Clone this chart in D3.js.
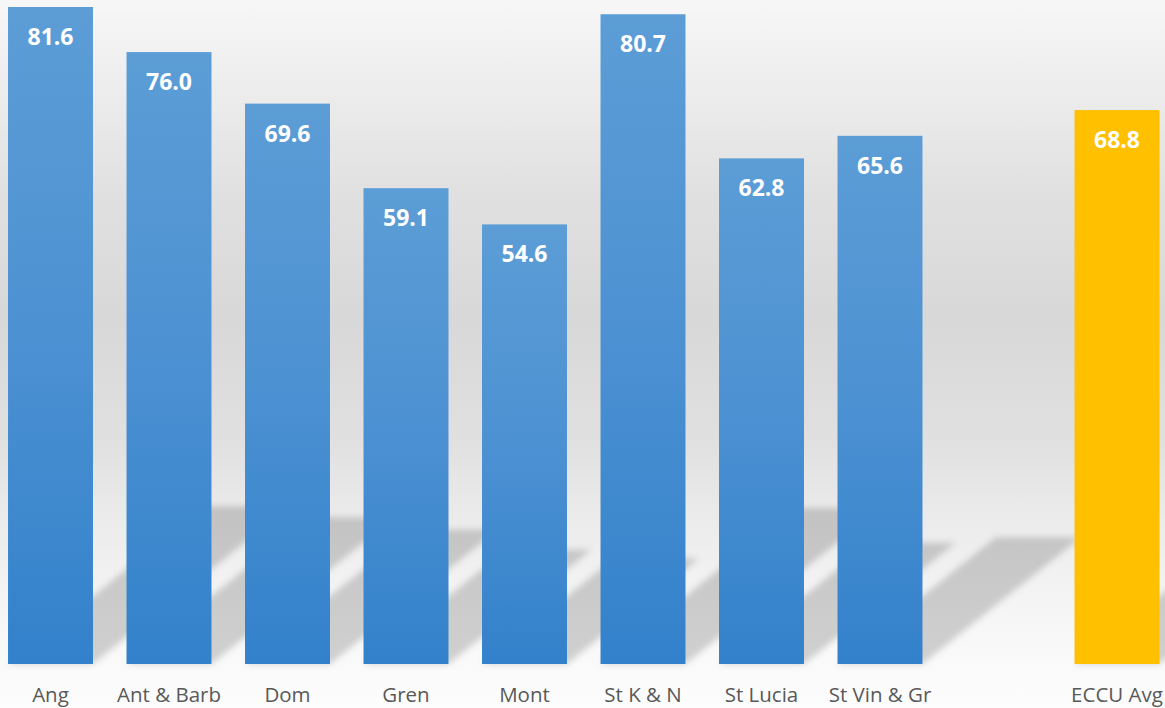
<!DOCTYPE html>
<html>
<head>
<meta charset="utf-8">
<script src="https://cdn.jsdelivr.net/npm/d3@7"></script>
<style>
  html, body { margin: 0; padding: 0; background: #fff; }
  svg { display: block; }
</style>
</head>
<body>
<svg id="chart" width="1165" height="708"></svg>
<script>
const categories = ["Ang", "Ant & Barb", "Dom", "Gren", "Mont", "St K & N", "St Lucia", "St Vin & Gr", "", "ECCU Avg"];
const values = [81.6, 76.0, 69.6, 59.1, 54.6, 80.7, 62.8, 65.6, null, 68.8];
const highlight = ["ECCU Avg"];

const W = 1165, H = 708;
const svg = d3.select("#chart");
const defs = svg.append("defs");

// background gradient
const bg = defs.append("linearGradient").attr("id", "bg").attr("x1", 0).attr("y1", 0).attr("x2", 0).attr("y2", 1);
[[0, "#f7f7f7"], [0.28, "#e0e0e0"], [0.45, "#d8d8d8"], [0.62, "#e0e0e0"], [0.72, "#eaeaea"], [0.82, "#f2f2f2"], [0.92, "#f9f9f9"], [1, "#fdfdfd"]]
  .forEach(([o, c]) => bg.append("stop").attr("offset", o).attr("stop-color", c));

const bar = defs.append("linearGradient").attr("id", "barGrad").attr("x1", 0).attr("y1", 0).attr("x2", 0).attr("y2", 1);
[[0, "#5c9dd6"], [0.5, "#4c91d2"], [1, "#3381cb"]]
  .forEach(([o, c]) => bar.append("stop").attr("offset", o).attr("stop-color", c));

const blur = defs.append("filter").attr("id", "blur").attr("x", "-20%").attr("y", "-20%").attr("width", "140%").attr("height", "140%");
blur.append("feGaussianBlur").attr("stdDeviation", 3.2);

svg.append("rect").attr("width", W).attr("height", H).attr("fill", "url(#bg)");

const x = d3.scaleBand()
  .domain(d3.range(categories.length))
  .range([-8.75, 1176.25])
  .paddingInner(0.283)
  .paddingOuter(0.1415);

const y = d3.scaleLinear().domain([0, 81.6]).range([664, 7]);

const data = categories.map((c, i) => ({ c, v: values[i], i })).filter(d => d.v != null);

// perspective shadows
const shadowG = svg.append("g").attr("filter", "url(#blur)");
shadowG.selectAll("path").data(data).join("path")
  .attr("fill", "#000")
  .attr("fill-opacity", 0.17)
  .attr("d", d => {
    const x0 = x(d.i), x1 = x(d.i) + x.bandwidth();
    const base = y(0);
    const h = base - y(d.v);
    const dy = h * 0.24, dx = dy * 1.25;
    return `M${x0},${base}L${x1},${base}L${x1 + dx},${base - dy}L${x0 + dx},${base - dy}Z`;
  });

// bars
svg.append("g").selectAll("rect").data(data).join("rect")
  .attr("x", d => x(d.i))
  .attr("y", d => y(d.v))
  .attr("width", x.bandwidth())
  .attr("height", d => y(0) - y(d.v))
  .attr("fill", d => highlight.includes(d.c) ? "#ffc000" : "url(#barGrad)");

// value labels
svg.append("g").selectAll("text").data(data).join("text")
  .attr("x", d => x(d.i) + x.bandwidth() / 2)
  .attr("y", d => y(d.v) + 38)
  .attr("text-anchor", "middle")
  .attr("font-family", "'Open Sans', sans-serif")
  .attr("font-weight", "bold")
  .attr("font-size", 23)
  .attr("fill", "#ffffff")
  .text(d => d.v.toFixed(1));

// category labels
svg.append("g").selectAll("text").data(data).join("text")
  .attr("x", d => x(d.i) + x.bandwidth() / 2)
  .attr("y", 702)
  .attr("text-anchor", "middle")
  .attr("font-family", "'Open Sans', sans-serif")
  .attr("font-size", 20.5)
  .attr("fill", "#595959")
  .text(d => d.c);
</script>
</body>
</html>
